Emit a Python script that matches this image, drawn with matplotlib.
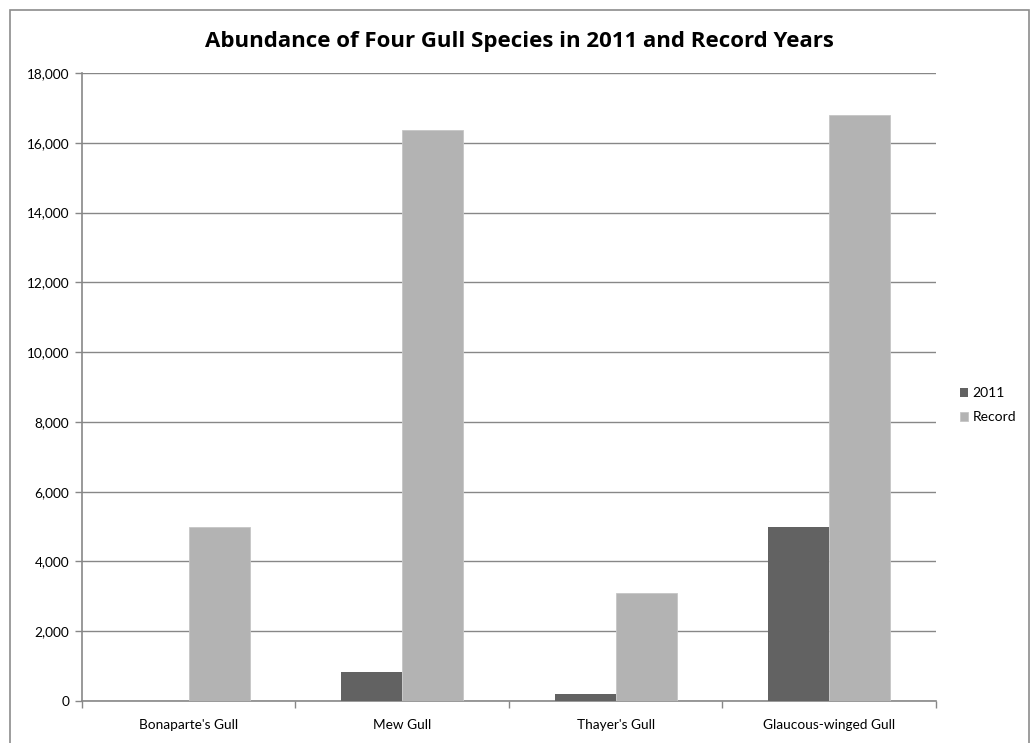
import matplotlib.pyplot as plt
import numpy as np
from matplotlib.ticker import StrMethodFormatter, FixedLocator
from matplotlib.patches import Rectangle

species = ["Bonaparte's Gull", "Mew Gull", "Thayer's Gull", "Glaucous-winged Gull"]
counts_2011 = [0, 830, 210, 5000]
counts_record = [5000, 16370, 3090, 16800]
series_names = ["2011", "Record"]

plt.rcParams['font.family'] = ['Lato', 'DejaVu Sans']

fig = plt.figure(figsize=(10.35, 7.43), dpi=100)
ax = fig.add_axes([0.0792, 0.0565, 0.8251, 0.8452])

# rahmen um das ganze diagramm
fig.patches.append(Rectangle((10 / 1035, -0.05), 1019 / 1035, 1.05 - 10 / 743,
                             transform=fig.transFigure, fill=False,
                             edgecolor='#8c8c8c', linewidth=1.2))

x = np.arange(len(species))
w = 0.2857
ax.bar(x - w / 2, counts_2011, w, color='#626262', label=series_names[0], zorder=3)
ax.bar(x + w / 2, counts_record, w, color='#b3b3b3', edgecolor='#c6c6c6',
       linewidth=0.6, label=series_names[1], zorder=3)

ax.set_xlim(-0.5, len(species) - 0.5)
ax.set_ylim(0, 18000)
ax.set_yticks(np.arange(0, 18001, 2000))
ax.yaxis.set_major_formatter(StrMethodFormatter('{x:,.0f}'))
ax.yaxis.grid(True, color='#878787', linewidth=1.0, zorder=0)

ax.set_xticks(x)
ax.set_xticklabels(species)
ax.xaxis.set_minor_locator(FixedLocator(np.arange(-0.5, len(species), 1.0)))
ax.tick_params(axis='x', which='major', length=0, labelsize=9.8, pad=13, colors='black')
ax.tick_params(axis='x', which='minor', length=5, color='#878787', width=1)
ax.tick_params(axis='y', length=5, color='#878787', width=1, labelsize=9.8, pad=4)

for side in ['top', 'right']:
    ax.spines[side].set_visible(False)
for side in ['left', 'bottom']:
    ax.spines[side].set_color('#878787')
    ax.spines[side].set_linewidth(1.2)

fig.text(0.5015, 0.944, 'Abundance of Four Gull Species in 2011 and Record Years',
         ha='center', va='center', fontsize=16, fontweight='bold',
         family=['Open Sans', 'DejaVu Sans'])

ax.legend(loc='center left', bbox_to_anchor=(1.028, 0.471), frameon=False,
          fontsize=10, handlelength=0.62, handleheight=0.62, handletextpad=0.3,
          labelspacing=0.9, borderaxespad=0, borderpad=0)

fig.savefig('out.png', dpi=100)
